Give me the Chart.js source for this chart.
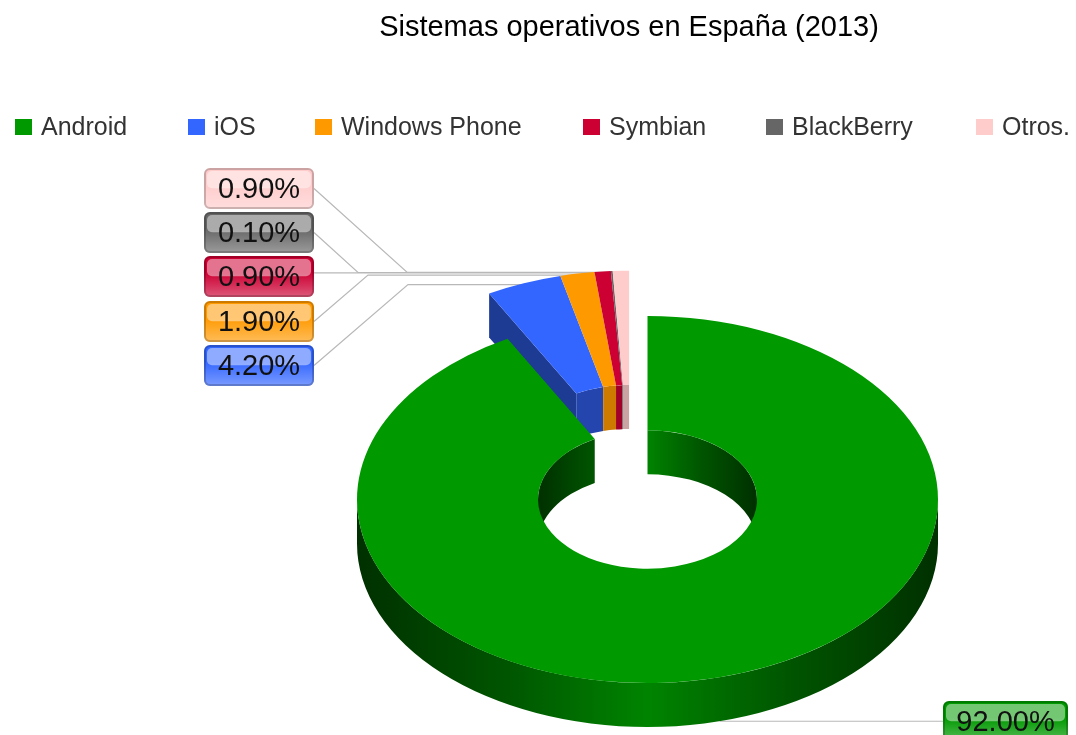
<!DOCTYPE html>
<html>
<head>
<meta charset="utf-8">
<style>
  html, body { margin: 0; background: #fff; }
  canvas { display: block; }
</style>
<script src="https://cdn.jsdelivr.net/npm/chart.js@4"></script>
</head>
<body>
<canvas id="chart-os" width="1076" height="735"></canvas>
<script>
const chartTitle = 'Sistemas operativos en España (2013)';
const categories = ['Android', 'iOS', 'Windows Phone', 'Symbian', 'BlackBerry', 'Otros.'];
const shares = [92, 4.2, 1.9, 0.9, 0.1, 0.9];
const sliceColors = ['#009900', '#3366ff', '#ff9900', '#cc0033', '#666666', '#ffcccc'];
const wallShades = [1, 0.68, 0.8, 0.8, 0.76, 0.8];

// projected ring: flattened ellipse plus a wall hanging below it
const ring = { cx: 647.5, cy: 499.5, rx: 290.5, ry: 183.5, depth: 44, explode: 0.255 };
const legendX = [15, 188, 315, 583, 766, 976];
const FONT = '"Liberation Sans", Arial, sans-serif';

// value tag per slice: box left/top/width, and where the leader bends
const tags = [
  { x: 943, y: 701, w: 125, bendX: null },
  { x: 204, y: 345, w: 110, bendX: 408 },
  { x: 204, y: 301, w: 110, bendX: 368 },
  { x: 204, y: 256, w: 110, bendX: null },
  { x: 204, y: 212, w: 110, bendX: 358 },
  { x: 204, y: 168, w: 110, bendX: 407 }
];

function shade(hex, f) {
  const n = parseInt(hex.slice(1), 16);
  const c = [n >> 16, (n >> 8) & 255, n & 255].map(v => Math.round(v * f));
  return `rgb(${c[0]},${c[1]},${c[2]})`;
}

function wallGradient(ctx, left, right) {
  const g = ctx.createLinearGradient(left, 0, right, 0);
  g.addColorStop(0, '#003000');
  g.addColorStop(0.25, '#005400');
  g.addColorStop(0.5, '#008400');
  g.addColorStop(0.75, '#005400');
  g.addColorStop(1, '#003000');
  return g;
}

// band between an elliptical arc and the same arc dropped by the ring depth
function fillWall(ctx, cx, cy, rx, ry, a0, a1, fill) {
  ctx.beginPath();
  ctx.ellipse(cx, cy, rx, ry, 0, a0, a1);
  ctx.ellipse(cx, cy + ring.depth, rx, ry, 0, a1, a0, true);
  ctx.closePath();
  ctx.fillStyle = fill;
  ctx.fill();
}

function drawTop(ctx, arc, dx, dy) {
  ctx.save();
  ctx.translate(ring.cx + dx, ring.cy + dy);
  ctx.scale(ring.rx / arc.outerRadius, ring.ry / arc.outerRadius);
  ctx.translate(-arc.x, -arc.y);
  arc.draw(ctx);
  ctx.restore();
}

function drawLeaders(ctx, arcs, dx, dy) {
  ctx.strokeStyle = '#b8b8b8';
  ctx.lineWidth = 1.2;
  arcs.forEach((arc, i) => {
    const mid = (arc.startAngle + arc.endAngle) / 2;
    const t = tags[i];
    ctx.beginPath();
    if (i === 0) {
      const y = ring.cy + ring.depth + Math.sin(mid) * ring.ry;
      ctx.moveTo(ring.cx + Math.cos(mid) * ring.rx, y);
      ctx.lineTo(t.x, y);
    } else {
      const ex = ring.cx + dx + Math.cos(mid) * ring.rx;
      const ey = ring.cy + dy + Math.sin(mid) * ring.ry + 1.5;
      if (t.bendX === null) {
        ctx.moveTo(t.x + t.w, ey);
      } else {
        ctx.moveTo(t.x + t.w, t.y + 20.5);
        ctx.lineTo(t.bendX, ey);
      }
      ctx.lineTo(ex, ey);
    }
    ctx.stroke();
  });
}

function roundedBox(ctx, x, y, w, h, r) {
  ctx.beginPath();
  ctx.roundRect(x, y, w, h, r);
}

function drawTag(ctx, t, color, text) {
  const h = 41;
  roundedBox(ctx, t.x, t.y, t.w, h, 6);
  ctx.fillStyle = color;
  ctx.fill();

  // lighter lower half
  const g = ctx.createLinearGradient(0, t.y + h * 0.4, 0, t.y + h);
  g.addColorStop(0, 'rgba(255,255,255,0)');
  g.addColorStop(1, 'rgba(255,255,255,0.35)');
  roundedBox(ctx, t.x, t.y, t.w, h, 6);
  ctx.fillStyle = g;
  ctx.fill();

  // glossy cap
  roundedBox(ctx, t.x + 3, t.y + 3, t.w - 6, h * 0.42, 5);
  ctx.fillStyle = 'rgba(255,255,255,0.45)';
  ctx.fill();

  roundedBox(ctx, t.x + 1, t.y + 1, t.w - 2, h - 2, 5);
  ctx.strokeStyle = 'rgba(0,0,0,0.2)';
  ctx.lineWidth = 2;
  ctx.stroke();

  ctx.fillStyle = '#111';
  ctx.font = '29px ' + FONT;
  ctx.textAlign = 'center';
  ctx.textBaseline = 'middle';
  ctx.fillText(text, t.x + t.w / 2, t.y + h / 2 + 1);
}

const ring3d = {
  id: 'ring3d',
  beforeDatasetsDraw(chart) {
    const ctx = chart.ctx;
    const arcs = chart.getDatasetMeta(0).data;
    const android = arcs[0];
    const loose = arcs.slice(1);
    const k = android.innerRadius / android.outerRadius;
    const irx = ring.rx * k;
    const iry = ring.ry * k;

    // the five small slices are pulled out together along their shared mid angle
    const groupMid = (loose[0].startAngle + loose[loose.length - 1].endAngle) / 2;
    const dx = Math.cos(groupMid) * ring.explode * ring.rx;
    const dy = Math.sin(groupMid) * ring.explode * ring.ry;

    ctx.save();
    drawLeaders(ctx, arcs, dx, dy);

    // cut face of the first loose slice
    const a = loose[0].startAngle;
    const ox = ring.cx + dx + Math.cos(a) * ring.rx;
    const oy = ring.cy + dy + Math.sin(a) * ring.ry;
    const ix = ring.cx + dx + Math.cos(a) * irx;
    const iy = ring.cy + dy + Math.sin(a) * iry;
    ctx.beginPath();
    ctx.moveTo(ox, oy);
    ctx.lineTo(ix, iy);
    ctx.lineTo(ix, iy + ring.depth);
    ctx.lineTo(ox, oy + ring.depth);
    ctx.closePath();
    ctx.fillStyle = shade(sliceColors[1], 0.58);
    ctx.fill();

    loose.forEach((arc, i) => {
      fillWall(ctx, ring.cx + dx, ring.cy + dy, irx, iry, arc.startAngle, arc.endAngle,
        shade(sliceColors[i + 1], wallShades[i + 1]));
    });
    loose.forEach(arc => drawTop(ctx, arc, dx, dy));

    // Android: back of the hole, front of the ring, then its top
    const inner = wallGradient(ctx, ring.cx - irx, ring.cx + irx);
    fillWall(ctx, ring.cx, ring.cy, irx, iry, android.startAngle, 0, inner);
    fillWall(ctx, ring.cx, ring.cy, irx, iry, Math.PI, android.endAngle, inner);
    fillWall(ctx, ring.cx, ring.cy, ring.rx, ring.ry, 0, Math.PI,
      wallGradient(ctx, ring.cx - ring.rx, ring.cx + ring.rx));
    drawTop(ctx, android, 0, 0);

    arcs.forEach((arc, i) => drawTag(ctx, tags[i], sliceColors[i], shares[i].toFixed(2) + '%'));
    ctx.restore();
    return false;
  },
  afterDraw(chart) {
    const ctx = chart.ctx;
    ctx.save();
    ctx.font = '25px ' + FONT;
    ctx.textAlign = 'left';
    ctx.textBaseline = 'middle';
    categories.forEach((name, i) => {
      ctx.fillStyle = sliceColors[i];
      ctx.fillRect(legendX[i], 119, 17, 16);
      ctx.fillStyle = '#333';
      ctx.fillText(name, legendX[i] + 26, 128);
    });
    ctx.restore();
  }
};

new Chart(document.getElementById('chart-os'), {
  type: 'doughnut',
  data: {
    labels: categories,
    datasets: [{
      data: shares,
      backgroundColor: sliceColors,
      borderWidth: 0
    }]
  },
  options: {
    responsive: false,
    animation: false,
    cutout: '37.7%',
    layout: { padding: { left: 182 } },
    plugins: {
      legend: { display: false },
      tooltip: { enabled: false },
      title: {
        display: true,
        fullSize: false,
        text: chartTitle,
        color: '#000',
        font: { family: FONT, size: 29, weight: 'normal' },
        padding: { top: 11, bottom: 10 }
      }
    }
  },
  plugins: [ring3d]
});
</script>
</body>
</html>
